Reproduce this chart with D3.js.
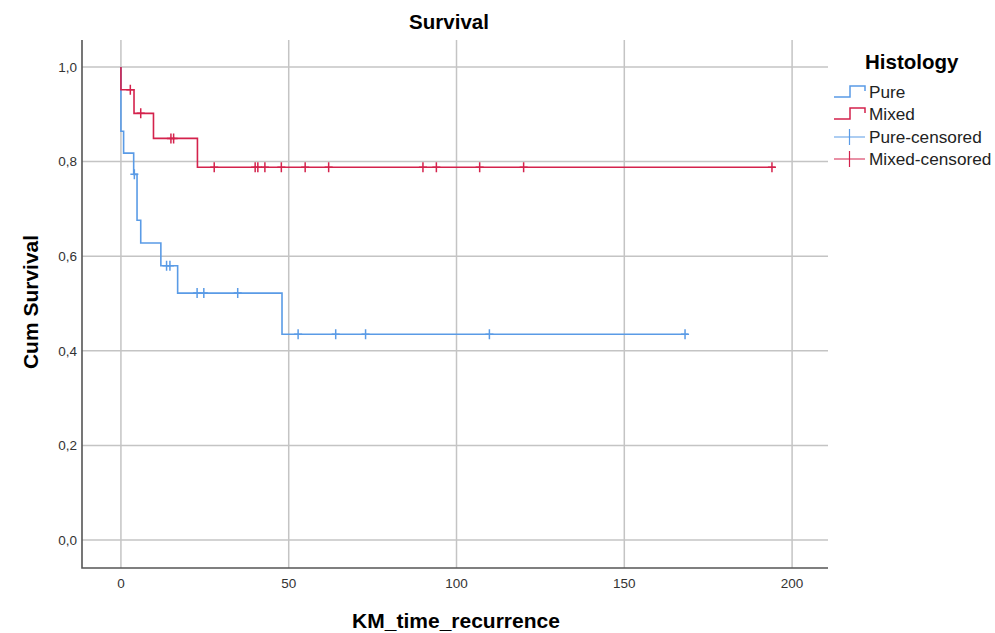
<!DOCTYPE html>
<html>
<head>
<meta charset="utf-8">
<script src="https://cdn.jsdelivr.net/npm/d3@7"></script>
<style>
  body { margin: 0; background: #fff; }
  text { font-family: "Liberation Sans", Arial, sans-serif; }
</style>
</head>
<body>
<div id="chart"></div>
<script>
// Kaplan-Meier

// Pure: event times and survival after each drop
const pureStepTime = [0, 0.8, 3.8, 4.8, 5.9, 11.9, 16.9, 48];
const pureStepSurv = [0.864, 0.818, 0.773, 0.676, 0.628, 0.580, 0.522, 0.435];
const pureEnd = 169;
const pureCensor = [4.0, 13.6, 14.6, 22.7, 24.7, 34.8, 52.8, 64, 72.9, 109.8, 168.1];

// Mixed
const mixedStepTime = [0, 3.9, 9.7, 22.8];
const mixedStepSurv = [0.952, 0.902, 0.849, 0.788];
const mixedEnd = 195;
const mixedCensor = [2.8, 5.9, 14.9, 15.7, 27.8, 40, 40.8, 42.9, 47.8, 54.9, 61.9, 90, 94, 106.9, 120, 194];

const xTicks = [0, 50, 100, 150, 200];
const yTicks = [0, 0.2, 0.4, 0.6, 0.8, 1.0];
const legendLabels = ["Pure", "Mixed", "Pure-censored", "Mixed-censored"];

const BLUE = "#5a9be6";
const RED = "#d4224c";

const W = 995, H = 633;
const PLOT = {LEFT: 82, RIGHT: 828, TOP: 40, BOTTOM: 568};

const svg = d3.select("#chart").append("svg")
  .attr("width", W).attr("height", H);

const x = d3.scaleLinear().domain([-11.6, 210.7]).range([PLOT.LEFT, PLOT.RIGHT]);
const y = d3.scaleLinear().domain([-0.059, 1.057]).range([PLOT.BOTTOM, PLOT.TOP]);

// grid
const grid = svg.append("g").attr("stroke", "#c4c4c4").attr("stroke-width", 1.5);
grid.selectAll("line.v").data(xTicks).enter().append("line")
  .attr("x1", d => x(d)).attr("x2", d => x(d))
  .attr("y1", PLOT.TOP).attr("y2", PLOT.BOTTOM);
grid.selectAll("line.h").data(yTicks).enter().append("line")
  .attr("y1", d => y(d)).attr("y2", d => y(d))
  .attr("x1", PLOT.LEFT).attr("x2", PLOT.RIGHT);

// axis frame (left + bottom)
svg.append("path")
  .attr("d", `M${PLOT.LEFT},${PLOT.TOP}V${PLOT.BOTTOM}H${PLOT.RIGHT}`)
  .attr("fill", "none").attr("stroke", "#555").attr("stroke-width", 1.6);

// tick labels
const fmt = d => d3.format(".1f")(d).replace(".", ",");
svg.append("g").selectAll("text").data(yTicks).enter().append("text")
  .attr("x", PLOT.LEFT - 5).attr("y", d => y(d)).attr("dy", "0.35em")
  .attr("text-anchor", "end").attr("font-size", 13.5).attr("fill", "#333")
  .text(fmt);
svg.append("g").selectAll("text").data(xTicks).enter().append("text")
  .attr("x", d => x(d)).attr("y", PLOT.BOTTOM + 20)
  .attr("text-anchor", "middle").attr("font-size", 13.5).attr("fill", "#333")
  .text(d => d);

// titles
svg.append("text").attr("x", 449).attr("y", 29).attr("text-anchor", "middle")
  .attr("font-size", 20.5).attr("font-weight", "bold").text("Survival");
svg.append("text").attr("transform", "translate(38,302)rotate(-90)")
  .attr("text-anchor", "middle").attr("font-size", 21).attr("font-weight", "bold")
  .text("Cum Survival");
svg.append("text").attr("x", 456).attr("y", 628).attr("text-anchor", "middle")
  .attr("font-size", 21).attr("font-weight", "bold").text("KM_time_recurrence");

// curves
function stepPoints(times, survs, end) {
  const pts = [{t: 0, s: 1}];
  times.forEach((t, i) => pts.push({t: t, s: survs[i]}));
  pts.push({t: end, s: survs[survs.length - 1]});
  return pts;
}
function survAt(times, survs, t) {
  let s = 1;
  times.forEach((tt, i) => { if (tt <= t) s = survs[i]; });
  return s;
}

const line = d3.line().x(d => x(d.t)).y(d => y(d.s)).curve(d3.curveStepAfter);

const series = [
  {times: pureStepTime, survs: pureStepSurv, end: pureEnd, cens: pureCensor, color: BLUE},
  {times: mixedStepTime, survs: mixedStepSurv, end: mixedEnd, cens: mixedCensor, color: RED}
];

series.forEach(sr => {
  svg.append("path")
    .datum(stepPoints(sr.times, sr.survs, sr.end))
    .attr("fill", "none").attr("stroke", sr.color).attr("stroke-width", 1.6)
    .attr("d", line);

  svg.append("g").selectAll("path").data(sr.cens).enter().append("path")
    .attr("transform", d => `translate(${x(d)},${y(survAt(sr.times, sr.survs, d))})`)
    .attr("d", "M-4,0H4M0,-5V5")
    .attr("fill", "none").attr("stroke", sr.color).attr("stroke-width", 1.5);
});

// legend
const lg = svg.append("g").attr("transform", "translate(834,0)");
lg.append("text").attr("x", 31).attr("y", 69)
  .attr("font-size", 20.5).attr("font-weight", "bold").text("Histology");
const legendY = [92, 114, 137, 159];
const legendColor = [BLUE, RED, BLUE, RED];
legendLabels.forEach((lab, i) => {
  const gy = legendY[i];
  if (i < 2) {
    lg.append("path")
      .attr("d", `M0,${gy + 5}H16V${gy - 6}H31V${gy - 1}`)
      .attr("fill", "none").attr("stroke", legendColor[i]).attr("stroke-width", 1.5);
  } else {
    lg.append("path")
      .attr("d", `M0,${gy}H31M15.5,${gy - 8}V${gy + 8}`)
      .attr("fill", "none").attr("stroke", legendColor[i]).attr("stroke-width", 1.2);
  }
  lg.append("text").attr("x", 35).attr("y", gy).attr("dy", "0.36em")
    .attr("font-size", 17.2).attr("fill", "#222").text(lab);
});
</script>
</body>
</html>
